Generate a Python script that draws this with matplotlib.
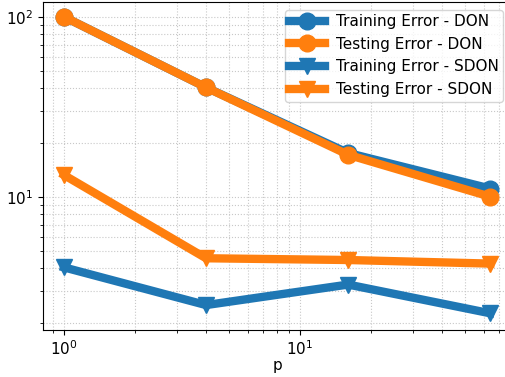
import numpy as np
import matplotlib.pyplot as plt

plt.rcParams['font.size'] = 11

p = [1, 4, 16, 64]
train_don = [100, 40.5, 17.5, 11.1]
test_don = [100, 40.5, 17.1, 10.0]
train_sdon = [4.05, 2.5, 3.25, 2.25]
test_sdon = [13.2, 4.55, 4.45, 4.25]

fig = plt.figure(figsize=(5.06, 3.77), dpi=100)
# right spine sits just past the edge of the canvas
ax = fig.add_axes([0.085, 0.125, 0.925, 0.87])

ax.loglog(p, train_don, '-o', color='tab:blue', lw=6, ms=12, label='Training Error - DON')
ax.loglog(p, test_don, '-o', color='tab:orange', lw=6, ms=12, label='Testing Error - DON')
ax.loglog(p, train_sdon, '-v', color='tab:blue', lw=6, ms=12, label='Training Error - SDON')
ax.loglog(p, test_sdon, '-v', color='tab:orange', lw=6, ms=12, label='Testing Error - SDON')

ax.set_xlim(0.815, 78.4)
ax.set_ylim(1.82, 121)
ax.grid(True, which='both', ls=':', color='#c8c8c8')
ax.set_xlabel('p', labelpad=0)
ax.legend(loc='upper right', handlelength=2.35, borderpad=0.3, handletextpad=0.7)

fig.savefig('out.png', dpi=100)
